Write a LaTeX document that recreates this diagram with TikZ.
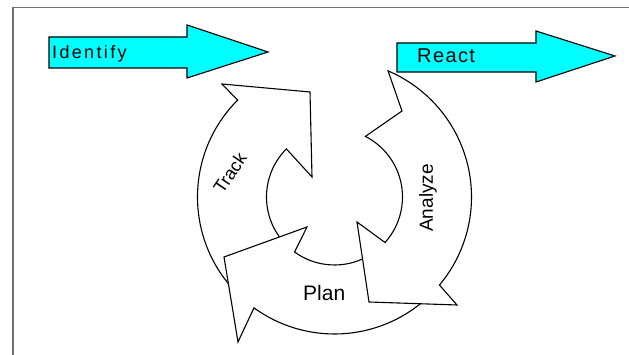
\documentclass[tikz,border=0pt]{standalone}
\usepackage{fontspec}
\setmainfont{Liberation Sans}
\newfontfamily\spacedfont[LetterSpace=13]{Liberation Sans}
\newfontfamily\reactfont[LetterSpace=7]{Liberation Sans}
\usetikzlibrary{calc}
\definecolor{arrowcyan}{HTML}{00FFFF}
\definecolor{framegray}{HTML}{707070}
\begin{document}
\begin{tikzpicture}[x=1pt,y=1pt,
  flatarrow/.style={fill=arrowcyan, draw=black, line width=1.1pt, line join=miter},
  cyclearrow/.style={fill=white, draw=black, line width=1.1pt, line join=miter},
  lbl/.style={inner sep=0pt, text=black}]
\useasboundingbox (0,0) rectangle (629,355);
\draw[framegray, line width=1.5pt] (13,0) -- (13,347.5) -- (629,347.5);

% Identify
\draw[flatarrow] (49,287) -- (187,287) -- (187,277) -- (268,303) -- (187,330) -- (187,318) -- (49,318) -- cycle;
\node[lbl, anchor=base west, font={\spacedfont\fontsize{18}{20}\selectfont}] (identify) at (52,296) {Identify};

% React
\draw[flatarrow] (397,283) -- (536,283) -- (536,273) -- (615,299) -- (536,324) -- (536,312) -- (397,312) -- cycle;
\node[lbl, anchor=base west, font={\reactfont\fontsize{20}{22}\selectfont}] (react) at (417,292) {React};

% cycle
\coordinate (C) at (334.5,158);
% Track
\draw[cyclearrow] ($(C)+(225:137)$) arc[start angle=225, end angle=135, radius=137]
  -- (222,271) -- (310,263) -- (312,178) -- ($(C)+(135:68)$)
  arc[start angle=135, end angle=225, radius=68] -- cycle;
% Plan
\draw[cyclearrow] ($(C)+(312:137)$) arc[start angle=312, end angle=234, radius=137]
  -- (238,13) -- (224,98) -- (307,128) -- ($(C)+(234:68)$)
  arc[start angle=234, end angle=300, radius=68] -- cycle;
% Analyze
\draw[cyclearrow] ($(C)+(67:137)$) arc[start angle=67, end angle=-40, radius=137]
  -- (457,50) -- (369,53) -- (357,133) -- ($(C)+(-42:68)$)
  arc[start angle=-42, end angle=63, radius=68] -- (402,244) -- cycle;

\node[lbl, rotate=56, font={\fontsize{18}{20}\selectfont}] (track) at (230,182) {Track};
\node[lbl, rotate=90, font={\fontsize{19}{21}\selectfont}] (analyze) at (428,157) {Analyze};
\node[lbl, anchor=base west, font={\fontsize{21}{23}\selectfont}] (plan) at (303,54) {Plan};
\end{tikzpicture}
\end{document}
